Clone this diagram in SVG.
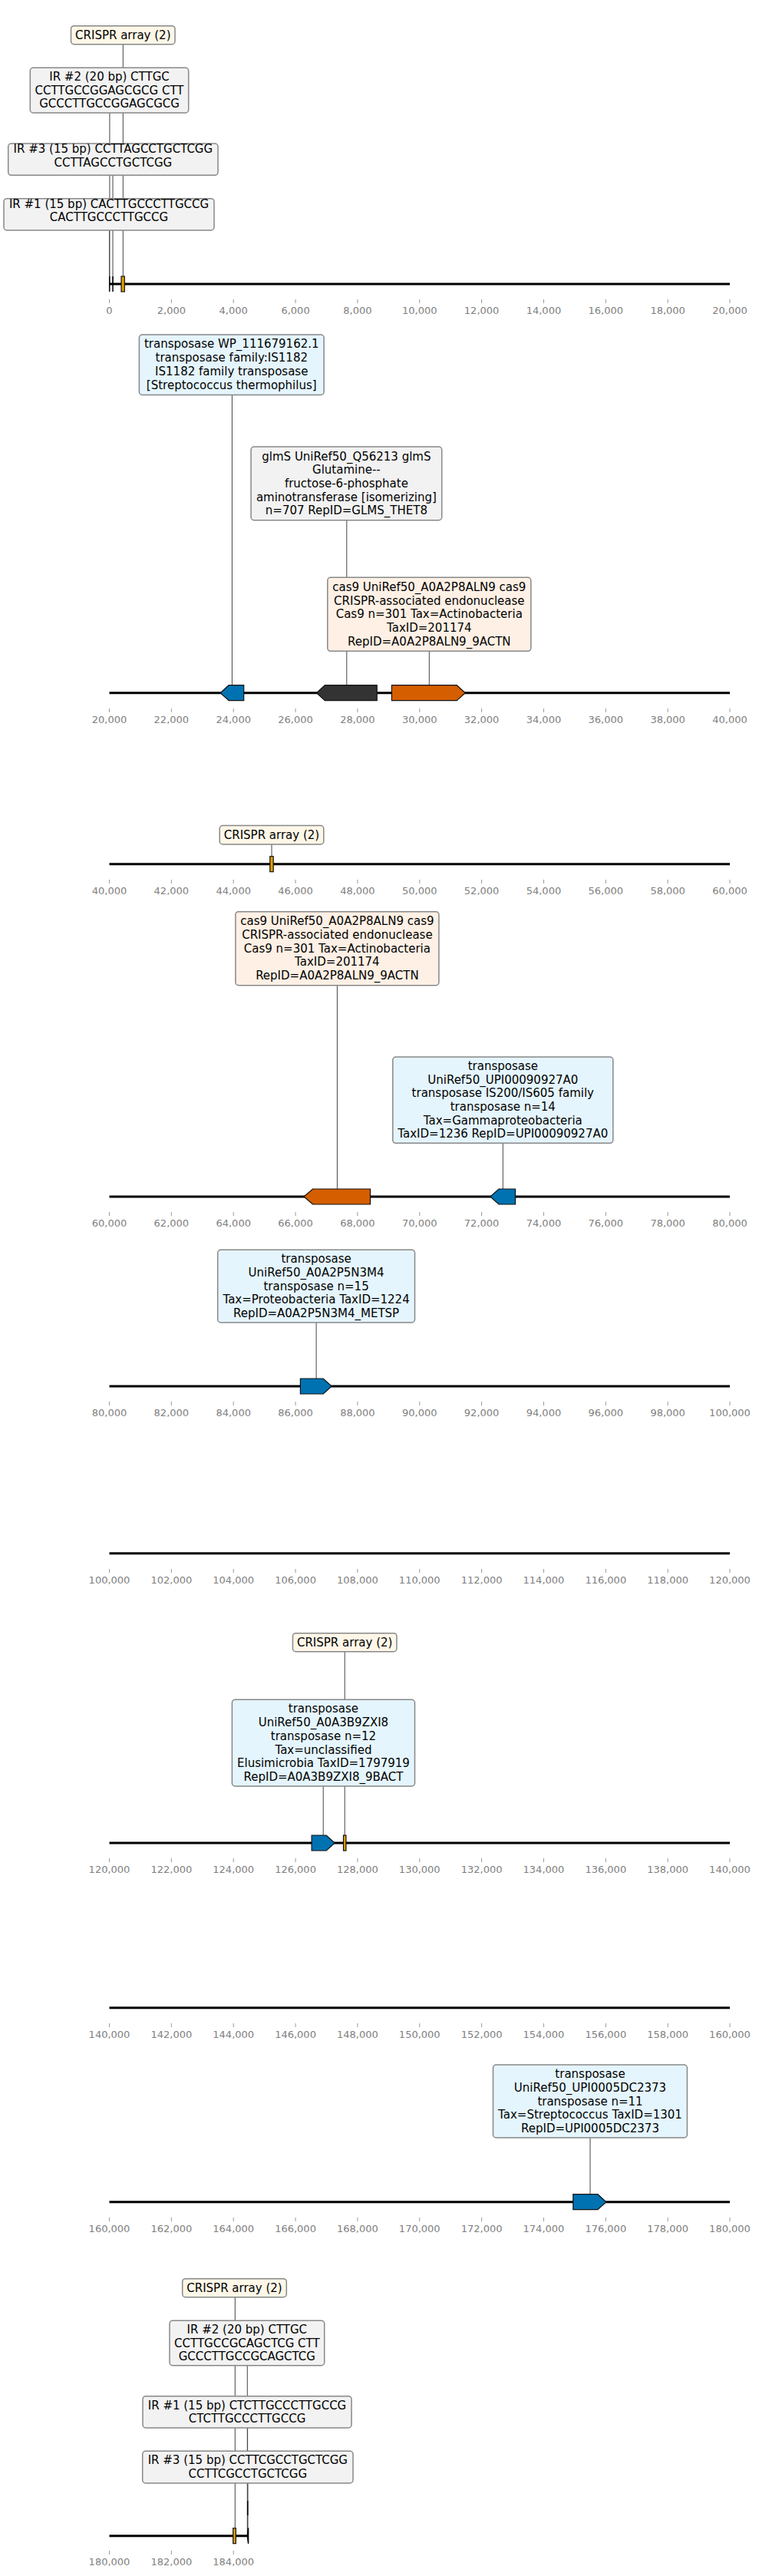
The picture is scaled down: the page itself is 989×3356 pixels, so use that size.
<svg xmlns="http://www.w3.org/2000/svg" width="989" height="3356" viewBox="0 0 989 3356">
<style>
.lbl{font-family:"DejaVu Sans",sans-serif;font-size:15px;text-anchor:middle;fill:#000}
.tl{font-family:"DejaVu Sans",sans-serif;font-size:13px;text-anchor:middle;fill:#808080}
.box{stroke:#888;stroke-width:1.5}
.cr{fill:#fef7e8}
.ir{fill:#f2f2f2}
.tp{fill:#e5f5fd}
.cs{fill:#fef0e5}
.bb{stroke:#000;stroke-width:3;fill:none}
.tk{stroke:#999;stroke-width:1}
.conn line{stroke:#444;stroke-width:1}
.g{stroke:#111;stroke-width:1.2}
.blue{fill:#0072b2}
.org{fill:#d55e00}
.dk{fill:#333333}
.crf{fill:#e69f00}
.irf{stroke:#000;stroke-width:1.5;fill:none}
</style>
<rect width="989" height="3356" fill="#fff"/>

<g id="connectors" class="conn">
<line x1="160.3" y1="370" x2="160.3" y2="57.7"/>
<line x1="142.9" y1="370" x2="142.9" y2="147"/>
<line x1="147" y1="370" x2="147" y2="228.3"/>
<line x1="142.5" y1="370" x2="142.5" y2="300"/>
<line x1="302.4" y1="902.7" x2="302.4" y2="514.7"/>
<line x1="451.8" y1="902.7" x2="451.8" y2="677.7"/>
<line x1="559.3" y1="902.7" x2="559.3" y2="848.3"/>
<line x1="354" y1="1125.7" x2="354" y2="1100"/>
<line x1="439.4" y1="1559" x2="439.4" y2="1283.7"/>
<line x1="655.3" y1="1559" x2="655.3" y2="1489.3"/>
<line x1="412.1" y1="1806" x2="412.1" y2="1723"/>
<line x1="421.2" y1="2401" x2="421.2" y2="2327"/>
<line x1="449.2" y1="2401" x2="449.2" y2="2151.7"/>
<line x1="769" y1="2868.7" x2="769" y2="2785"/>
<line x1="306.3" y1="3303.7" x2="306.3" y2="2992.7"/>
<line x1="322.3" y1="3303.7" x2="322.3" y2="3081.7"/>
<line x1="322.6" y1="3303.7" x2="322.6" y2="3163"/>
<line x1="322.9" y1="3303.7" x2="322.9" y2="3235"/>
</g>

<g id="axis1">
<line class="bb" x1="142.5" y1="370" x2="951" y2="370"/>
<g class="tk">
<line x1="142.5" y1="390" x2="142.5" y2="395"/><line x1="223.35" y1="390" x2="223.35" y2="395"/><line x1="304.2" y1="390" x2="304.2" y2="395"/><line x1="385.05" y1="390" x2="385.05" y2="395"/><line x1="465.9" y1="390" x2="465.9" y2="395"/><line x1="546.75" y1="390" x2="546.75" y2="395"/><line x1="627.6" y1="390" x2="627.6" y2="395"/><line x1="708.45" y1="390" x2="708.45" y2="395"/><line x1="789.3" y1="390" x2="789.3" y2="395"/><line x1="870.15" y1="390" x2="870.15" y2="395"/><line x1="951" y1="390" x2="951" y2="395"/>
</g>
<g class="tl">
<text x="142.5" y="409">0</text><text x="223.35" y="409">2,000</text><text x="304.2" y="409">4,000</text><text x="385.05" y="409">6,000</text><text x="465.9" y="409">8,000</text><text x="546.75" y="409">10,000</text><text x="627.6" y="409">12,000</text><text x="708.45" y="409">14,000</text><text x="789.3" y="409">16,000</text><text x="870.15" y="409">18,000</text><text x="951" y="409">20,000</text>
</g>
</g>

<g id="f1-ir1"><line class="irf" x1="142.7" y1="360" x2="142.7" y2="380"/></g>
<g id="f1-ir3"><line class="irf" x1="147" y1="360" x2="147" y2="380"/></g>
<g id="f1-crispr"><rect class="crf g" x="158" y="360" width="4.3" height="20"/></g>

<g id="n1-crispr"><rect class="box cr" x="92.5" y="33.7" width="135.5" height="24" rx="4"/><text class="lbl" x="160.3" y="50.7">CRISPR array (2)</text></g>
<g id="n1-ir2"><rect class="box ir" x="39.3" y="88.3" width="206.4" height="58.7" rx="4"/><text class="lbl" x="142.5" y="104.9">IR #2 (20 bp) CTTGC</text><text class="lbl" x="142.5" y="122.6">CCTTGCCGGAGCGCG CTT</text><text class="lbl" x="142.5" y="140.3">GCCCTTGCCGGAGCGCG</text></g>
<g id="n1-ir3"><rect class="box ir" x="10.7" y="187" width="273.3" height="41.3" rx="4"/><text class="lbl" x="147.35" y="198.8">IR #3 (15 bp) CCTTAGCCTGCTCGG</text><text class="lbl" x="147.35" y="216.5">CCTTAGCCTGCTCGG</text></g>
<g id="n1-ir1"><rect class="box ir" x="5" y="258.7" width="274" height="41.3" rx="4"/><text class="lbl" x="142" y="270.5">IR #1 (15 bp) CACTTGCCCTTGCCG</text><text class="lbl" x="142" y="288.2">CACTTGCCCTTGCCG</text></g>

<g id="axis2">
<line class="bb" x1="142.5" y1="902.7" x2="951" y2="902.7"/>
<g class="tk">
<line x1="142.5" y1="923" x2="142.5" y2="928"/><line x1="223.35" y1="923" x2="223.35" y2="928"/><line x1="304.2" y1="923" x2="304.2" y2="928"/><line x1="385.05" y1="923" x2="385.05" y2="928"/><line x1="465.9" y1="923" x2="465.9" y2="928"/><line x1="546.75" y1="923" x2="546.75" y2="928"/><line x1="627.6" y1="923" x2="627.6" y2="928"/><line x1="708.45" y1="923" x2="708.45" y2="928"/><line x1="789.3" y1="923" x2="789.3" y2="928"/><line x1="870.15" y1="923" x2="870.15" y2="928"/><line x1="951" y1="923" x2="951" y2="928"/>
</g>
<g class="tl">
<text x="142.5" y="942">20,000</text><text x="223.35" y="942">22,000</text><text x="304.2" y="942">24,000</text><text x="385.05" y="942">26,000</text><text x="465.9" y="942">28,000</text><text x="546.75" y="942">30,000</text><text x="627.6" y="942">32,000</text><text x="708.45" y="942">34,000</text><text x="789.3" y="942">36,000</text><text x="870.15" y="942">38,000</text><text x="951" y="942">40,000</text>
</g>
</g>
<g id="f2-tp"><polygon class="blue g" points="287.1,902.7 298.1,892.7 317.7,892.7 317.7,912.7 298.1,912.7"/></g>
<g id="f2-glms"><polygon class="dk g" points="412.4,902.7 423.4,892.7 491.2,892.7 491.2,912.7 423.4,912.7"/></g>
<g id="f2-cas9"><polygon class="org g" points="510.4,892.7 595.2,892.7 606.2,902.7 595.2,912.7 510.4,912.7"/></g>

<g id="n2-tp"><rect class="box tp" x="181.4" y="436" width="240.7" height="78.5" rx="4"/><text class="lbl" x="301.75" y="453.4">transposase WP_111679162.1</text><text class="lbl" x="301.75" y="471.1">transposase family:IS1182</text><text class="lbl" x="301.75" y="488.8">IS1182 family transposase</text><text class="lbl" x="301.75" y="506.5">[Streptococcus thermophilus]</text></g>
<g id="n2-glms"><rect class="box ir" x="327.1" y="582" width="248.6" height="95.7" rx="4"/><text class="lbl" x="451.4" y="599.5">glmS UniRef50_Q56213 glmS</text><text class="lbl" x="451.4" y="617.2">Glutamine--</text><text class="lbl" x="451.4" y="634.9">fructose-6-phosphate</text><text class="lbl" x="451.4" y="652.6">aminotransferase [isomerizing]</text><text class="lbl" x="451.4" y="670.3">n=707 RepID=GLMS_THET8</text></g>
<g id="n2-cas9"><rect class="box cs" x="426.8" y="752.3" width="265" height="96" rx="4"/><text class="lbl" x="559.3" y="769.9">cas9 UniRef50_A0A2P8ALN9 cas9</text><text class="lbl" x="559.3" y="787.6">CRISPR-associated endonuclease</text><text class="lbl" x="559.3" y="805.3">Cas9 n=301 Tax=Actinobacteria</text><text class="lbl" x="559.3" y="823">TaxID=201174</text><text class="lbl" x="559.3" y="840.7">RepID=A0A2P8ALN9_9ACTN</text></g>

<g id="axis3">
<line class="bb" x1="142.5" y1="1125.7" x2="951" y2="1125.7"/>
<g class="tk">
<line x1="142.5" y1="1146" x2="142.5" y2="1151"/><line x1="223.35" y1="1146" x2="223.35" y2="1151"/><line x1="304.2" y1="1146" x2="304.2" y2="1151"/><line x1="385.05" y1="1146" x2="385.05" y2="1151"/><line x1="465.9" y1="1146" x2="465.9" y2="1151"/><line x1="546.75" y1="1146" x2="546.75" y2="1151"/><line x1="627.6" y1="1146" x2="627.6" y2="1151"/><line x1="708.45" y1="1146" x2="708.45" y2="1151"/><line x1="789.3" y1="1146" x2="789.3" y2="1151"/><line x1="870.15" y1="1146" x2="870.15" y2="1151"/><line x1="951" y1="1146" x2="951" y2="1151"/>
</g>
<g class="tl">
<text x="142.5" y="1165">40,000</text><text x="223.35" y="1165">42,000</text><text x="304.2" y="1165">44,000</text><text x="385.05" y="1165">46,000</text><text x="465.9" y="1165">48,000</text><text x="546.75" y="1165">50,000</text><text x="627.6" y="1165">52,000</text><text x="708.45" y="1165">54,000</text><text x="789.3" y="1165">56,000</text><text x="870.15" y="1165">58,000</text><text x="951" y="1165">60,000</text>
</g>
</g>
<g id="f3-crispr"><rect class="crf g" x="351.8" y="1115.7" width="4.4" height="20"/></g>
<g id="n3-crispr"><rect class="box cr" x="286.25" y="1075.5" width="135.5" height="24.5" rx="4"/><text class="lbl" x="354" y="1092.7">CRISPR array (2)</text></g>

<g id="axis4">
<line class="bb" x1="142.5" y1="1559" x2="951" y2="1559"/>
<g class="tk">
<line x1="142.5" y1="1579" x2="142.5" y2="1584"/><line x1="223.35" y1="1579" x2="223.35" y2="1584"/><line x1="304.2" y1="1579" x2="304.2" y2="1584"/><line x1="385.05" y1="1579" x2="385.05" y2="1584"/><line x1="465.9" y1="1579" x2="465.9" y2="1584"/><line x1="546.75" y1="1579" x2="546.75" y2="1584"/><line x1="627.6" y1="1579" x2="627.6" y2="1584"/><line x1="708.45" y1="1579" x2="708.45" y2="1584"/><line x1="789.3" y1="1579" x2="789.3" y2="1584"/><line x1="870.15" y1="1579" x2="870.15" y2="1584"/><line x1="951" y1="1579" x2="951" y2="1584"/>
</g>
<g class="tl">
<text x="142.5" y="1598">60,000</text><text x="223.35" y="1598">62,000</text><text x="304.2" y="1598">64,000</text><text x="385.05" y="1598">66,000</text><text x="465.9" y="1598">68,000</text><text x="546.75" y="1598">70,000</text><text x="627.6" y="1598">72,000</text><text x="708.45" y="1598">74,000</text><text x="789.3" y="1598">76,000</text><text x="870.15" y="1598">78,000</text><text x="951" y="1598">80,000</text>
</g>
</g>
<g id="f4-cas9"><polygon class="org g" points="396,1559 407.5,1549 482.5,1549 482.5,1569 407.5,1569"/></g>
<g id="f4-tp"><polygon class="blue g" points="638.8,1559 650,1549 671.5,1549 671.5,1569 650,1569"/></g>
<g id="n4-cas9"><rect class="box cs" x="306.9" y="1187.7" width="265" height="96" rx="4"/><text class="lbl" x="439.4" y="1205.3">cas9 UniRef50_A0A2P8ALN9 cas9</text><text class="lbl" x="439.4" y="1223">CRISPR-associated endonuclease</text><text class="lbl" x="439.4" y="1240.7">Cas9 n=301 Tax=Actinobacteria</text><text class="lbl" x="439.4" y="1258.4">TaxID=201174</text><text class="lbl" x="439.4" y="1276.1">RepID=A0A2P8ALN9_9ACTN</text></g>
<g id="n4-tp"><rect class="box tp" x="511.8" y="1377" width="287" height="112.3" rx="4"/><text class="lbl" x="655.3" y="1393.9">transposase</text><text class="lbl" x="655.3" y="1411.6">UniRef50_UPI00090927A0</text><text class="lbl" x="655.3" y="1429.3">transposase IS200/IS605 family</text><text class="lbl" x="655.3" y="1447">transposase n=14</text><text class="lbl" x="655.3" y="1464.7">Tax=Gammaproteobacteria</text><text class="lbl" x="655.3" y="1482.4">TaxID=1236 RepID=UPI00090927A0</text></g>

<g id="axis5">
<line class="bb" x1="142.5" y1="1806" x2="951" y2="1806"/>
<g class="tk">
<line x1="142.5" y1="1826" x2="142.5" y2="1831"/><line x1="223.35" y1="1826" x2="223.35" y2="1831"/><line x1="304.2" y1="1826" x2="304.2" y2="1831"/><line x1="385.05" y1="1826" x2="385.05" y2="1831"/><line x1="465.9" y1="1826" x2="465.9" y2="1831"/><line x1="546.75" y1="1826" x2="546.75" y2="1831"/><line x1="627.6" y1="1826" x2="627.6" y2="1831"/><line x1="708.45" y1="1826" x2="708.45" y2="1831"/><line x1="789.3" y1="1826" x2="789.3" y2="1831"/><line x1="870.15" y1="1826" x2="870.15" y2="1831"/><line x1="951" y1="1826" x2="951" y2="1831"/>
</g>
<g class="tl">
<text x="142.5" y="1845">80,000</text><text x="223.35" y="1845">82,000</text><text x="304.2" y="1845">84,000</text><text x="385.05" y="1845">86,000</text><text x="465.9" y="1845">88,000</text><text x="546.75" y="1845">90,000</text><text x="627.6" y="1845">92,000</text><text x="708.45" y="1845">94,000</text><text x="789.3" y="1845">96,000</text><text x="870.15" y="1845">98,000</text><text x="951" y="1845">100,000</text>
</g>
</g>
<g id="f5-tp"><polygon class="blue g" points="391.4,1796 421.2,1796 432.2,1806 421.2,1816 391.4,1816"/></g>
<g id="n5-tp"><rect class="box tp" x="283.7" y="1628.3" width="256.8" height="94.7" rx="4"/><text class="lbl" x="412.1" y="1645.3">transposase</text><text class="lbl" x="412.1" y="1663">UniRef50_A0A2P5N3M4</text><text class="lbl" x="412.1" y="1680.7">transposase n=15</text><text class="lbl" x="412.1" y="1698.4">Tax=Proteobacteria TaxID=1224</text><text class="lbl" x="412.1" y="1716.1">RepID=A0A2P5N3M4_METSP</text></g>

<g id="axis6">
<line class="bb" x1="142.5" y1="2023.7" x2="951" y2="2023.7"/>
<g class="tk">
<line x1="142.5" y1="2044" x2="142.5" y2="2049"/><line x1="223.35" y1="2044" x2="223.35" y2="2049"/><line x1="304.2" y1="2044" x2="304.2" y2="2049"/><line x1="385.05" y1="2044" x2="385.05" y2="2049"/><line x1="465.9" y1="2044" x2="465.9" y2="2049"/><line x1="546.75" y1="2044" x2="546.75" y2="2049"/><line x1="627.6" y1="2044" x2="627.6" y2="2049"/><line x1="708.45" y1="2044" x2="708.45" y2="2049"/><line x1="789.3" y1="2044" x2="789.3" y2="2049"/><line x1="870.15" y1="2044" x2="870.15" y2="2049"/><line x1="951" y1="2044" x2="951" y2="2049"/>
</g>
<g class="tl">
<text x="142.5" y="2063">100,000</text><text x="223.35" y="2063">102,000</text><text x="304.2" y="2063">104,000</text><text x="385.05" y="2063">106,000</text><text x="465.9" y="2063">108,000</text><text x="546.75" y="2063">110,000</text><text x="627.6" y="2063">112,000</text><text x="708.45" y="2063">114,000</text><text x="789.3" y="2063">116,000</text><text x="870.15" y="2063">118,000</text><text x="951" y="2063">120,000</text>
</g>
</g>

<g id="axis7">
<line class="bb" x1="142.5" y1="2401" x2="951" y2="2401"/>
<g class="tk">
<line x1="142.5" y1="2421" x2="142.5" y2="2426"/><line x1="223.35" y1="2421" x2="223.35" y2="2426"/><line x1="304.2" y1="2421" x2="304.2" y2="2426"/><line x1="385.05" y1="2421" x2="385.05" y2="2426"/><line x1="465.9" y1="2421" x2="465.9" y2="2426"/><line x1="546.75" y1="2421" x2="546.75" y2="2426"/><line x1="627.6" y1="2421" x2="627.6" y2="2426"/><line x1="708.45" y1="2421" x2="708.45" y2="2426"/><line x1="789.3" y1="2421" x2="789.3" y2="2426"/><line x1="870.15" y1="2421" x2="870.15" y2="2426"/><line x1="951" y1="2421" x2="951" y2="2426"/>
</g>
<g class="tl">
<text x="142.5" y="2440">120,000</text><text x="223.35" y="2440">122,000</text><text x="304.2" y="2440">124,000</text><text x="385.05" y="2440">126,000</text><text x="465.9" y="2440">128,000</text><text x="546.75" y="2440">130,000</text><text x="627.6" y="2440">132,000</text><text x="708.45" y="2440">134,000</text><text x="789.3" y="2440">136,000</text><text x="870.15" y="2440">138,000</text><text x="951" y="2440">140,000</text>
</g>
</g>
<g id="f7-tp"><polygon class="blue g" points="406.1,2391 425.2,2391 436.2,2401 425.2,2411 406.1,2411"/></g>
<g id="f7-crispr"><rect class="crf g" x="447.5" y="2391" width="3.4" height="20"/></g>
<g id="n7-crispr"><rect class="box cr" x="381.45" y="2127.7" width="135.5" height="24" rx="4"/><text class="lbl" x="449.2" y="2144.7">CRISPR array (2)</text></g>
<g id="n7-tp"><rect class="box tp" x="302.4" y="2214.3" width="238.1" height="112.7" rx="4"/><text class="lbl" x="421.45" y="2231.4">transposase</text><text class="lbl" x="421.45" y="2249.1">UniRef50_A0A3B9ZXI8</text><text class="lbl" x="421.45" y="2266.8">transposase n=12</text><text class="lbl" x="421.45" y="2284.5">Tax=unclassified</text><text class="lbl" x="421.45" y="2302.2">Elusimicrobia TaxID=1797919</text><text class="lbl" x="421.45" y="2319.9">RepID=A0A3B9ZXI8_9BACT</text></g>

<g id="axis8">
<line class="bb" x1="142.5" y1="2615.7" x2="951" y2="2615.7"/>
<g class="tk">
<line x1="142.5" y1="2636" x2="142.5" y2="2641"/><line x1="223.35" y1="2636" x2="223.35" y2="2641"/><line x1="304.2" y1="2636" x2="304.2" y2="2641"/><line x1="385.05" y1="2636" x2="385.05" y2="2641"/><line x1="465.9" y1="2636" x2="465.9" y2="2641"/><line x1="546.75" y1="2636" x2="546.75" y2="2641"/><line x1="627.6" y1="2636" x2="627.6" y2="2641"/><line x1="708.45" y1="2636" x2="708.45" y2="2641"/><line x1="789.3" y1="2636" x2="789.3" y2="2641"/><line x1="870.15" y1="2636" x2="870.15" y2="2641"/><line x1="951" y1="2636" x2="951" y2="2641"/>
</g>
<g class="tl">
<text x="142.5" y="2655">140,000</text><text x="223.35" y="2655">142,000</text><text x="304.2" y="2655">144,000</text><text x="385.05" y="2655">146,000</text><text x="465.9" y="2655">148,000</text><text x="546.75" y="2655">150,000</text><text x="627.6" y="2655">152,000</text><text x="708.45" y="2655">154,000</text><text x="789.3" y="2655">156,000</text><text x="870.15" y="2655">158,000</text><text x="951" y="2655">160,000</text>
</g>
</g>

<g id="axis9">
<line class="bb" x1="142.5" y1="2868.7" x2="951" y2="2868.7"/>
<g class="tk">
<line x1="142.5" y1="2889" x2="142.5" y2="2894"/><line x1="223.35" y1="2889" x2="223.35" y2="2894"/><line x1="304.2" y1="2889" x2="304.2" y2="2894"/><line x1="385.05" y1="2889" x2="385.05" y2="2894"/><line x1="465.9" y1="2889" x2="465.9" y2="2894"/><line x1="546.75" y1="2889" x2="546.75" y2="2894"/><line x1="627.6" y1="2889" x2="627.6" y2="2894"/><line x1="708.45" y1="2889" x2="708.45" y2="2894"/><line x1="789.3" y1="2889" x2="789.3" y2="2894"/><line x1="870.15" y1="2889" x2="870.15" y2="2894"/><line x1="951" y1="2889" x2="951" y2="2894"/>
</g>
<g class="tl">
<text x="142.5" y="2908">160,000</text><text x="223.35" y="2908">162,000</text><text x="304.2" y="2908">164,000</text><text x="385.05" y="2908">166,000</text><text x="465.9" y="2908">168,000</text><text x="546.75" y="2908">170,000</text><text x="627.6" y="2908">172,000</text><text x="708.45" y="2908">174,000</text><text x="789.3" y="2908">176,000</text><text x="870.15" y="2908">178,000</text><text x="951" y="2908">180,000</text>
</g>
</g>
<g id="f9-tp"><polygon class="blue g" points="746.8,2858.7 778.9,2858.7 789.9,2868.7 778.9,2878.7 746.8,2878.7"/></g>
<g id="n9-tp"><rect class="box tp" x="642.5" y="2690" width="252.9" height="95" rx="4"/><text class="lbl" x="769" y="2707.1">transposase</text><text class="lbl" x="769" y="2724.8">UniRef50_UPI0005DC2373</text><text class="lbl" x="769" y="2742.5">transposase n=11</text><text class="lbl" x="769" y="2760.2">Tax=Streptococcus TaxID=1301</text><text class="lbl" x="769" y="2777.9">RepID=UPI0005DC2373</text></g>

<g id="axis10">
<line class="bb" x1="142.5" y1="3303.7" x2="323.3" y2="3303.7"/>
<g class="tk">
<line x1="142.5" y1="3323" x2="142.5" y2="3328"/><line x1="223.35" y1="3323" x2="223.35" y2="3328"/><line x1="304.2" y1="3323" x2="304.2" y2="3328"/>
</g>
<g class="tl">
<text x="142.5" y="3342">180,000</text><text x="223.35" y="3342">182,000</text><text x="304.2" y="3342">184,000</text>
</g>
</g>
<g id="f10-crispr"><rect class="crf g" x="303.7" y="3293.7" width="3.6" height="20"/></g>
<g id="f10-ir"><polygon fill="#000" stroke="#000" stroke-width="1" points="322.2,3303.7 323.3,3293.7 323.8,3293.7 323.8,3313.7 323.3,3313.7"/><line class="irf" x1="322.7" y1="3258" x2="322.7" y2="3277"/></g>
<g id="n10-crispr"><rect class="box cr" x="237.7" y="2968.7" width="135.6" height="24" rx="4"/><text class="lbl" x="305.5" y="2985.7">CRISPR array (2)</text></g>
<g id="n10-ir2"><rect class="box ir" x="221" y="3023.3" width="201.7" height="58.4" rx="4"/><text class="lbl" x="321.85" y="3039.8">IR #2 (20 bp) CTTGC</text><text class="lbl" x="321.85" y="3057.5">CCTTGCCGCAGCTCG CTT</text><text class="lbl" x="321.85" y="3075.2">GCCCTTGCCGCAGCTCG</text></g>
<g id="n10-ir1"><rect class="box ir" x="186" y="3121.7" width="272" height="41.3" rx="4"/><text class="lbl" x="322" y="3138.5">IR #1 (15 bp) CTCTTGCCCTTGCCG</text><text class="lbl" x="322" y="3156.2">CTCTTGCCCTTGCCG</text></g>
<g id="n10-ir3"><rect class="box ir" x="185.7" y="3193.3" width="274.3" height="41.7" rx="4"/><text class="lbl" x="322.85" y="3210.3">IR #3 (15 bp) CCTTCGCCTGCTCGG</text><text class="lbl" x="322.85" y="3228">CCTTCGCCTGCTCGG</text></g>
</svg>
